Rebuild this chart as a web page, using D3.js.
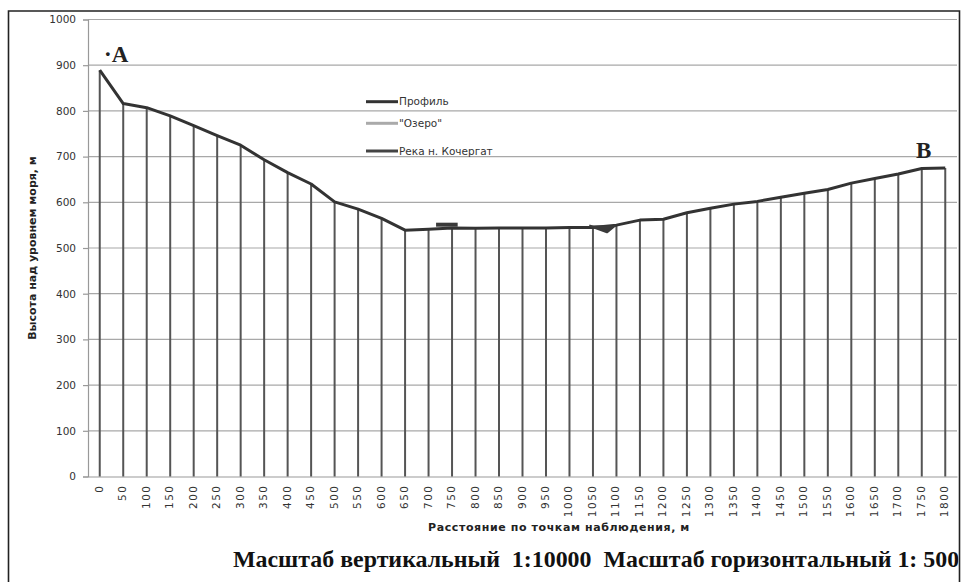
<!DOCTYPE html>
<html>
<head>
<meta charset="utf-8">
<script src="https://cdn.jsdelivr.net/npm/d3@7"></script>
<style>
  html, body { margin: 0; padding: 0; background: #fff; }
  svg { display: block; }
</style>
</head>
<body>
<svg id="chart" width="962" height="582"></svg>
<script>
// Profile: distance along the observation points (m) and elevation (m)
const distances = [0, 50, 100, 150, 200, 250, 300, 350, 400, 450, 500, 550, 600, 650, 700, 750,
  800, 850, 900, 950, 1000, 1050, 1100, 1150, 1200, 1250, 1300, 1350, 1400, 1450, 1500, 1550,
  1600, 1650, 1700, 1750, 1800];
const elevations = [889, 816, 807, 789, 768, 746, 725, 693, 665, 640, 601, 585, 565, 539, 541, 544,
  543, 544, 544, 544, 545, 545, 550, 561, 563, 577, 587, 596, 602, 611, 620, 628,
  642, 652, 662, 674, 675];

// Lake surface segment
const lakeDist = [716, 762];
const lakeElev = [551, 551];

// River crossing (small channel cut)
const riverDist = [1042, 1080, 1098];
const riverElev = [549, 535, 550];

const yTicks = [0, 100, 200, 300, 400, 500, 600, 700, 800, 900, 1000];
const seriesNames = ["Профиль", "\"Озеро\"", "Река н. Кочергат"];
const seriesColors = ["#333", "#aaa", "#444"];

const svg = d3.select("#chart");
const plot = { left: 88, right: 957, top: 19.5, bottom: 476.5 };

const x = d3.scaleBand().domain(distances.map(String)).range([plot.left, plot.right]).padding(0);
const bw = x.bandwidth();
const xc = d => x(String(d)) + bw / 2;
const xd = d3.scaleLinear().domain([0, 1800]).range([xc(0), xc(1800)]);
const y = d3.scaleLinear().domain([0, 1000]).range([plot.bottom, plot.top]);

// outer frame
const frame = svg.append("g").attr("stroke", "#222").attr("stroke-width", 1.6).attr("fill", "none");
frame.append("path").attr("d", "M8.5,582 V11 H959.5 V582");

// horizontal gridlines
svg.append("g").selectAll("line").data(yTicks.filter(t => t > 0)).join("line")
  .attr("x1", plot.left).attr("x2", plot.right)
  .attr("y1", d => y(d)).attr("y2", d => y(d))
  .attr("stroke", "#a8a8a8").attr("stroke-width", 1.2);

// y axis
const yAxis = svg.append("g").attr("transform", `translate(${plot.left},0)`)
  .call(d3.axisLeft(y).tickValues(yTicks).tickSize(5).tickPadding(7).tickFormat(d3.format("d")));
yAxis.select(".domain").attr("stroke", "#999").attr("stroke-width", 1.2);
yAxis.selectAll(".tick line").attr("stroke", "#999").attr("stroke-width", 1.2);
yAxis.selectAll(".tick text").attr("font-family", "'DejaVu Sans', sans-serif").attr("font-size", 10.5)
  .attr("fill", "#333");

// x axis (category)
const xAxis = svg.append("g").attr("transform", `translate(0,${plot.bottom})`)
  .call(d3.axisBottom(x).tickSize(0).tickPadding(0));
xAxis.select(".domain").attr("stroke", "#999").attr("stroke-width", 1.2);
xAxis.selectAll(".tick text")
  .attr("font-family", "'DejaVu Sans', sans-serif").attr("font-size", 10.5).attr("fill", "#333")
  .attr("text-anchor", "end").attr("dy", null)
  .attr("letter-spacing", 1.5)
  .attr("transform", "translate(3,8) rotate(-90)");

// drop lines from each point to the axis
svg.append("g").selectAll("line").data(distances).join("line")
  .attr("x1", (d) => xc(d)).attr("x2", (d) => xc(d))
  .attr("y1", (d, i) => y(elevations[i])).attr("y2", plot.bottom)
  .attr("stroke", "#555").attr("stroke-width", 2);

// profile line
svg.append("path")
  .datum(distances.map((d, i) => [xc(d), y(elevations[i])]))
  .attr("d", d3.line())
  .attr("fill", "none").attr("stroke", "#333").attr("stroke-width", 3).attr("stroke-linejoin", "round");

// lake
svg.append("path")
  .datum(lakeDist.map((d, i) => [xd(d), y(lakeElev[i])]))
  .attr("d", d3.line())
  .attr("fill", "none").attr("stroke", "#3a3a3a").attr("stroke-width", 4);

// river
svg.append("path")
  .datum(riverDist.map((d, i) => [xd(d), y(riverElev[i])]))
  .attr("d", d3.line())
  .attr("fill", "#3a3a3a").attr("stroke", "#3a3a3a").attr("stroke-width", 2.5).attr("stroke-linejoin", "round");

// legend
const legendY = [101.7, 123.3, 151];
const legend = svg.append("g");
seriesNames.forEach((name, i) => {
  legend.append("line").attr("x1", 366).attr("x2", 398)
    .attr("y1", legendY[i]).attr("y2", legendY[i])
    .attr("stroke", seriesColors[i]).attr("stroke-width", 3);
  legend.append("text").attr("x", 399).attr("y", legendY[i]).attr("dy", "0.35em")
    .attr("font-family", "'DejaVu Sans', sans-serif").attr("font-size", 10.5).attr("fill", "#333")
    .text(name);
});

// end point labels
svg.append("text").attr("x", 104).attr("y", 61.5)
  .attr("font-family", "'Liberation Serif', serif").attr("font-weight", "bold").attr("font-size", 23)
  .attr("fill", "#222").text("·A");
svg.append("text").attr("x", 916).attr("y", 158)
  .attr("font-family", "'Liberation Serif', serif").attr("font-weight", "bold").attr("font-size", 23)
  .attr("fill", "#222").text("B");

// axis titles
svg.append("text").attr("transform", `translate(36,${(plot.top + plot.bottom) / 2}) rotate(-90)`)
  .attr("text-anchor", "middle")
  .attr("font-family", "'DejaVu Sans', sans-serif").attr("font-weight", "bold").attr("font-size", 11)
  .attr("fill", "#222").text("Высота над уровнем моря, м");
svg.append("text").attr("x", 559).attr("y", 531).attr("text-anchor", "middle")
  .attr("font-family", "'DejaVu Sans', sans-serif").attr("font-weight", "bold").attr("font-size", 11)
  .attr("letter-spacing", 0.6)
  .attr("fill", "#222").text("Расстояние по точкам наблюдения, м");

// scale caption, cut at the frame edge
svg.append("clipPath").attr("id", "frameClip").append("rect")
  .attr("x", 8).attr("y", 0).attr("width", 950.5).attr("height", 582);
svg.append("text").attr("x", 233).attr("y", 567).attr("clip-path", "url(#frameClip)")
  .attr("font-family", "'Liberation Serif', serif").attr("font-weight", "bold").attr("font-size", 23.9)
  .attr("fill", "#111").attr("xml:space", "preserve")
  .text("Масштаб вертикальный  1:10000  Масштаб горизонтальный 1: 5000");
</script>
</body>
</html>
